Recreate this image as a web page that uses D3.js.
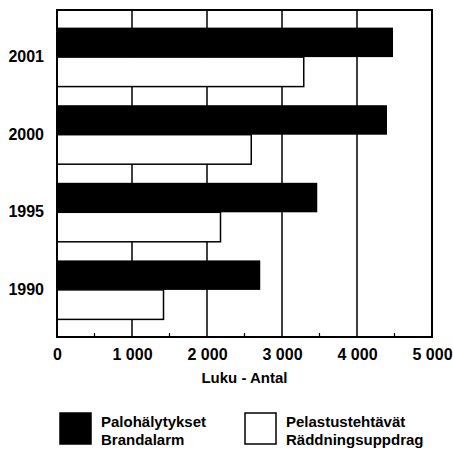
<!DOCTYPE html>
<html>
<head>
<meta charset="utf-8">
<script src="https://cdn.jsdelivr.net/npm/d3@7"></script>
<style>
  html, body { margin: 0; padding: 0; background: #fff; }
  svg { display: block; font-family: "Liberation Sans", Arial, Helvetica, sans-serif; }
</style>
</head>
<body>
<svg id="chart" width="453" height="451"></svg>
<script>
// Years shown top to bottom
const years = ["2001", "2000", "1995", "1990"];
// Palohälytykset / Brandalarm
const fireAlarms = [4480, 4400, 3470, 2710];
// Pelastustehtävät / Räddningsuppdrag
const rescueTasks = [3290, 2590, 2180, 1420];
// X-axis ticks
const xTicks = [0, 1000, 2000, 3000, 4000, 5000];
const xMinorTicks = [500, 1500, 2500, 3500, 4500];
const seriesNames = [
  ["Palohälytykset", "Brandalarm"],
  ["Pelastustehtävät", "Räddningsuppdrag"]
];
const axisTitle = "Luku - Antal";

const svg = d3.select("#chart");
const margin = { left: 57, right: 21, top: 10, bottom: 114 };
const W = 453, H = 451;
const x0 = margin.left, x1 = W - margin.right;
const y0 = margin.top, y1 = H - margin.bottom;

const x = d3.scaleLinear().domain([0, 5000]).range([x0, x1]);
const y = d3.scaleBand().domain(years).range([y0, y1])
  .paddingInner(0.24).paddingOuter(0.227);
const sub = d3.scaleBand().domain([0, 1]).range([0, y.bandwidth()]);

const fi = d3.formatLocale({ decimal: ",", thousands: "\u00a0", grouping: [3], currency: ["", ""] });
const fmt = fi.format(",d");

// vertical gridlines
svg.append("g").selectAll("line").data(xTicks.slice(1, -1)).join("line")
  .attr("x1", d => x(d)).attr("x2", d => x(d))
  .attr("y1", y0).attr("y2", y1)
  .attr("stroke", "#000").attr("stroke-width", 1.5);

// minor ticks on the bottom edge
svg.append("g").selectAll("line").data(xMinorTicks).join("line")
  .attr("x1", d => x(d)).attr("x2", d => x(d))
  .attr("y1", y1).attr("y2", y1 - 4)
  .attr("stroke", "#000").attr("stroke-width", 1.2);

// bars
const rows = years.map((yr, i) => ({ yr, a: fireAlarms[i], b: rescueTasks[i] }));
const g = svg.append("g");
g.selectAll("rect.fire").data(rows).join("rect")
  .attr("class", "fire")
  .attr("x", x(0)).attr("y", d => y(d.yr) + sub(0))
  .attr("width", d => x(d.a) - x(0)).attr("height", sub.bandwidth())
  .attr("fill", "#000");
g.selectAll("rect.rescue").data(rows).join("rect")
  .attr("class", "rescue")
  .attr("x", x(0)).attr("y", d => y(d.yr) + sub(1))
  .attr("width", d => x(d.b) - x(0)).attr("height", sub.bandwidth())
  .attr("fill", "#fff").attr("stroke", "#000").attr("stroke-width", 1.5);

// frame
svg.append("rect")
  .attr("x", x0).attr("y", y0).attr("width", x1 - x0).attr("height", y1 - y0)
  .attr("fill", "none").attr("stroke", "#000").attr("stroke-width", 2);

// y axis labels
const yAxis = d3.axisLeft(y).tickSize(0).tickPadding(13);
svg.append("g").attr("transform", `translate(${x0},0)`).call(yAxis)
  .call(a => a.select(".domain").remove())
  .selectAll("text")
  .attr("font-size", 16).attr("font-weight", "bold")
  .attr("font-family", "Liberation Sans, Arial, sans-serif").attr("fill", "#000");

// x axis labels
const xAxis = d3.axisBottom(x).tickValues(xTicks).tickSize(0).tickPadding(12).tickFormat(fmt);
svg.append("g").attr("transform", `translate(0,${y1})`).call(xAxis)
  .call(a => a.select(".domain").remove())
  .selectAll("text")
  .attr("font-size", 16).attr("font-weight", "bold")
  .attr("font-family", "Liberation Sans, Arial, sans-serif").attr("fill", "#000");

// axis title
svg.append("text")
  .attr("x", (x0 + x1) / 2).attr("y", 383)
  .attr("text-anchor", "middle")
  .attr("font-size", 15).attr("font-weight", "bold")
  .text(axisTitle);

// legend
const legendX = [60, 245];
const lg = svg.append("g").selectAll("g").data(seriesNames).join("g")
  .attr("transform", (d, i) => `translate(${legendX[i]},413)`);
lg.append("rect")
  .attr("width", 31).attr("height", 31)
  .attr("fill", (d, i) => i === 0 ? "#000" : "#fff")
  .attr("stroke", "#000").attr("stroke-width", 1.5);
lg.each(function (d) {
  const t = d3.select(this).append("text")
    .attr("font-size", 15).attr("font-weight", "bold");
  t.selectAll("tspan").data(d).join("tspan")
    .attr("x", 41).attr("y", (s, j) => 14 + j * 18)
    .text(s => s);
});
</script>
</body>
</html>
